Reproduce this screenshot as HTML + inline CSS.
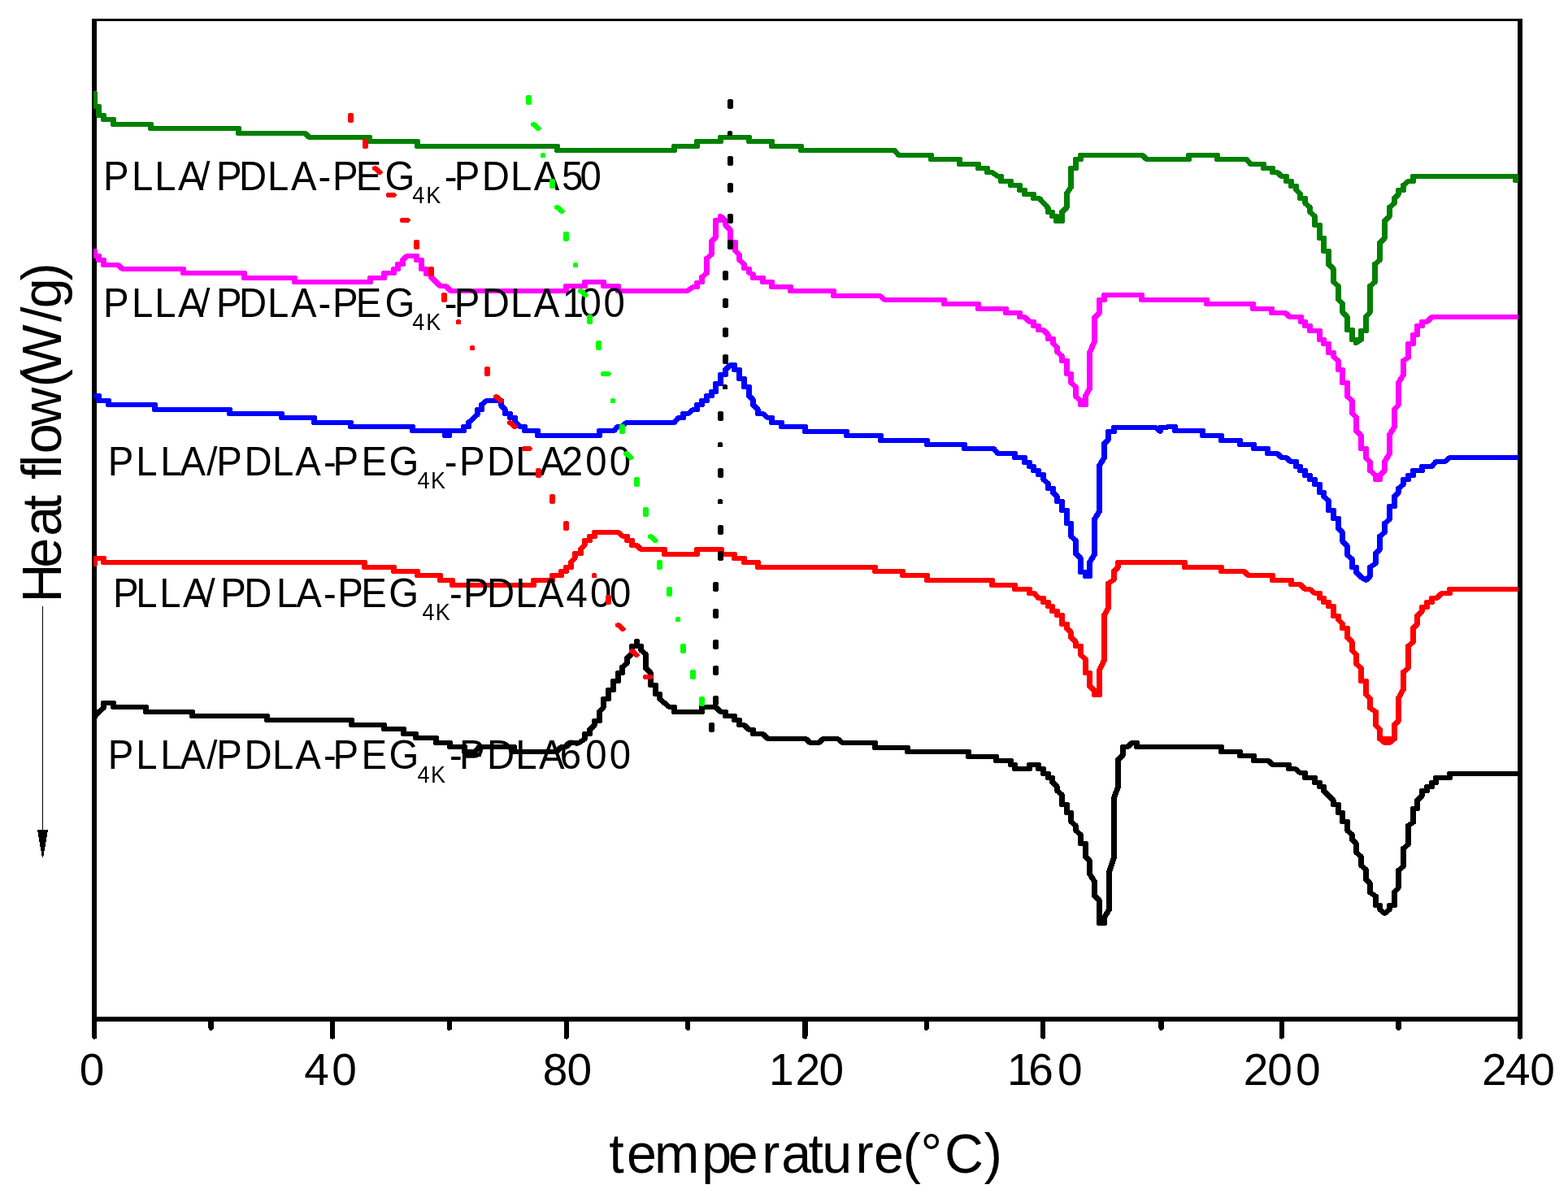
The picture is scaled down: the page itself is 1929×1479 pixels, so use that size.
<!DOCTYPE html>
<html lang="en"><head><meta charset="utf-8"><title>DSC heat flow curves</title>
<style>html,body{margin:0;padding:0;background:#fff}body{width:1929px;height:1479px;overflow:hidden}svg{display:block}text{font-family:"Liberation Sans",Arial,Helvetica,sans-serif;fill:#000}.c{fill:none;stroke-width:6.1;stroke-linejoin:round;stroke-linecap:round}.d{fill:none;stroke-width:7;stroke-linecap:round}</style></head><body>
<svg xmlns="http://www.w3.org/2000/svg" width="1929" height="1479" viewBox="0 0 1929 1479">
<rect width="1929" height="1479" fill="#fff"/>
<defs><clipPath id="plot"><rect x="115" y="26" width="1753" height="1226"/></clipPath></defs>
<g font-size="55">
<text y="1335" x="97.7">0</text>
<text y="1335" x="374.3 408.3">40</text>
<text y="1335" x="667.8 697.4">80</text>
<text y="1335" x="945.9 978.5 1007.6">120</text>
<text y="1335" x="1239 1265.3 1301">160</text>
<text y="1335" x="1529.8 1559.2 1594.1">200</text>
<text y="1335" x="1823 1851.9 1882.3">240</text>
</g>
<text font-size="68.5" transform="scale(0.97,1)" y="1442.8" x="772.37 794.75 830.02 889.95 923.41 966.2 990.94 1025.26 1042.66 1085.17 1108.15 1145.13 1167.54 1197.95 1248.25">temperature(°C)</text>
<text font-size="68.5" transform="translate(75,736) rotate(-90) scale(0.97,1)" y="0" x="-5.62 38.36 78.57 111.86 134.02 150.59 166.54 183.21 217.9 267.92 282.44 350.52 367.74 402.68">Heat flow(W/g)</text>
<g shape-rendering="crispEdges"><rect x="52" y="746" width="1" height="280" fill="#000"/></g>
<path shape-rendering="crispEdges" fill="#000" d="M46 1021L46 1021L46 1024L47 1024L47 1030L48 1030L48 1036L49 1036L49 1042L50 1042L50 1047L51 1047L51 1053L52 1053L52 1055L53 1055L53 1053L54 1053L54 1047L55 1047L55 1042L56 1042L56 1036L57 1036L57 1030L58 1030L58 1024L59 1024L59 1021Z"/>
<g fill="#000" shape-rendering="crispEdges">
<rect x="113" y="23" width="1760" height="3"/>
<rect x="113" y="1251" width="1760" height="6"/>
<rect x="113" y="23" width="6" height="1254"/>
<rect x="1867" y="23" width="6" height="1254"/>
</g>
<g stroke="#000" stroke-width="6.4" stroke-linecap="round" fill="none" shape-rendering="crispEdges">
<path d="M116.1 1254V1275.4"/>
<path d="M409 1254V1275.4"/>
<path d="M696.9 1254V1275.4"/>
<path d="M990.3 1254V1275.4"/>
<path d="M1283.2 1254V1275.4"/>
<path d="M1576.7 1254V1275.4"/>
<path d="M1870 1254V1275.4"/>
<path d="M259.6 1254V1264.6"/>
<path d="M552.9 1254V1264.6"/>
<path d="M846.2 1254V1264.6"/>
<path d="M1139.8 1254V1264.6"/>
<path d="M1428.6 1254V1264.6"/>
<path d="M1720.5 1254V1264.6"/>
</g>
<g clip-path="url(#plot)"><g class="c" transform="scale(1.15,1)" shape-rendering="crispEdges">
<path stroke="#000" d="M101.3 882L105.65 876L110.87 871L110.87 865L121.3 865L121.3 870L156.09 870L156.09 876L205.65 876L205.65 881L285.65 881L285.65 886L376.09 886L376.09 892L410.87 892L410.87 897L431.74 897L431.74 903L444.78 903L444.78 908L466.52 908L466.52 914L481.3 914L481.3 919L496.96 919L496.96 925L508.26 925L512.61 919L550 919L550 925L595.22 925L600.43 919L605.65 919L610 914L619.57 914L625.65 909L625.65 903L630.87 903L630.87 898L636.09 892L636.09 887L641.3 887L641.3 876L645.65 870L645.65 860L650.87 860L650.87 849L656.09 849L656.09 838L661.3 838L661.3 828L665.65 828L665.65 821L670.87 816L670.87 810L676.09 804L676.09 795L681.3 795L681.3 789L681.3 795L685.65 795L685.65 800L690.87 805L690.87 822L696.09 828L696.09 843L701.3 843L701.3 854L705.65 854L705.65 860L716.09 870L721.3 870L721.3 876L750.87 876L750.87 870L765.65 870L770.87 876L776.09 876L776.09 881L785.65 881L785.65 886L790.87 886L790.87 892L796.09 892L801.3 898L805.65 898L805.65 903L816.09 903L821.3 909L862.17 909L866.52 914L876.09 914L880.43 909L896.09 909L901.3 914L936.09 914L936.09 920L970.87 920L970.87 925L1036.09 925L1036.09 931L1065.65 931L1065.65 936L1081.3 936L1081.3 941L1085.65 941L1085.65 946L1101.3 946L1101.3 941L1110.87 941L1110.87 946L1116.09 946L1116.09 952L1121.3 952L1121.3 957L1125.65 957L1125.65 962L1130.87 968L1130.87 973L1136.09 978L1136.09 990L1141.3 990L1141.3 1000L1145.65 1000L1145.65 1011L1150.87 1016L1150.87 1022L1156.09 1027L1156.09 1038L1161.3 1038L1161.3 1054L1165.65 1059L1165.65 1075L1170.87 1085L1170.87 1102L1176.09 1108L1176.09 1136L1181.3 1136L1181.3 1129L1186.52 1119L1186.52 1073L1191.74 1055L1191.74 982L1196.09 968L1196.09 935L1201.3 929L1201.3 919L1206.52 919L1210.87 914L1216.09 914L1216.09 919L1306.52 919L1306.52 925L1326.52 925L1326.52 930L1341.3 930L1341.3 936L1356.96 936L1361.3 941L1378.7 941L1378.7 946L1385.65 946L1390.87 951L1396.09 951L1396.09 957L1406.52 957L1406.52 963L1411.74 963L1411.74 968L1416.09 968L1416.09 973L1426.52 985L1426.52 990L1431.74 990L1431.74 1000L1436.09 1000L1436.09 1011L1441.3 1011L1441.3 1022L1446.52 1027L1446.52 1033L1450.87 1038L1450.87 1049L1456.09 1054L1456.09 1065L1461.3 1070L1461.3 1082L1465.65 1087L1465.65 1098L1471.74 1103L1471.74 1114L1476.09 1114L1476.09 1119L1481.3 1124L1486.52 1119L1486.52 1114L1491.74 1114L1491.74 1098L1496.09 1092L1496.09 1071L1501.3 1066L1501.3 1044L1506.52 1039L1506.52 1016L1511.74 1012L1511.74 995L1516.09 995L1516.09 985L1521.3 979L1521.3 973L1526.52 973L1526.52 968L1531.74 968L1531.74 963L1536.09 963L1536.09 957L1550.87 957L1550.87 952L1623.04 952"/>
<path stroke="#f00" d="M101.3 694L101.3 687L110.87 687L110.87 692L390 692L390 698L421.3 698L421.3 703L446.52 703L446.52 708L470.87 708L470.87 714L483.91 714L483.91 720L570.87 720L570.87 714L590.87 714L590.87 708L600.43 708L600.43 703L605.65 703L605.65 698L610.87 698L610.87 692L615.22 686L615.22 681L621.3 681L621.3 676L625.65 670L625.65 665L630.87 665L630.87 660L636.09 660L636.09 655L661.3 655L666.52 660L670.87 660L670.87 665L676.09 665L676.09 671L681.3 671L685.65 676L710.87 676L710.87 682L745.65 682L745.65 676L771.74 676L771.74 682L785.65 682L785.65 687L796.09 687L796.09 692L810.87 692L810.87 698L936.09 698L936.09 703L965.65 703L965.65 708L991.74 708L991.74 714L1061.3 714L1061.3 720L1085.65 720L1085.65 725L1101.3 725L1101.3 730L1106.52 730L1110.87 736L1116.09 736L1116.09 741L1121.3 741L1121.3 746L1125.65 746L1125.65 752L1130.87 752L1130.87 757L1136.09 757L1136.09 768L1141.3 768L1141.3 773L1145.65 778L1145.65 784L1150.87 790L1150.87 795L1156.09 795L1156.09 806L1161.3 811L1161.3 828L1165.65 828L1165.65 844L1170.87 850L1170.87 855L1176.09 855L1176.09 825L1181.3 812L1181.3 757L1185.65 748L1185.65 718L1191.74 713L1191.74 703L1196.09 698L1196.09 692L1267.39 692L1267.39 698L1306.52 698L1306.52 703L1330.87 703L1335.22 708L1361.3 708L1361.3 714L1381.3 714L1381.3 719L1390.87 719L1396.09 725L1401.3 725L1406.52 730L1411.74 730L1411.74 736L1416.09 736L1416.09 741L1421.3 741L1421.3 746L1426.52 746L1426.52 758L1431.74 758L1431.74 762L1436.09 768L1436.09 773L1441.3 773L1441.3 784L1446.52 790L1446.52 800L1450.87 806L1450.87 817L1456.09 822L1456.09 838L1461.3 838L1461.3 854L1465.65 860L1465.65 871L1471.74 876L1471.74 892L1476.09 898L1476.09 909L1491.74 909L1476.09 909L1481.3 914L1486.52 914L1491.74 909L1491.74 892L1496.09 887L1496.09 859L1501.3 848L1501.3 827L1506.52 822L1506.52 795L1511.74 790L1511.74 773L1516.09 768L1516.09 758L1521.3 752L1521.3 747L1526.52 747L1526.52 741L1531.74 741L1531.74 736L1536.96 736L1542.17 730L1550.87 730L1550.87 725L1623.04 725"/>
<path stroke="#00f" d="M101.3 487L105.65 487L105.65 493L116.09 493L116.09 498L165.65 498L165.65 504L245.65 504L245.65 509L301.3 509L301.3 514L336.09 514L336.09 520L375.22 520L375.22 525L441.3 525L441.3 530L476.09 530L476.09 536L480.43 536L480.43 530L496.09 530L496.09 525L501.3 525L501.3 520L510.87 510L510.87 504L515.22 504L515.22 498L520.43 493L536.09 493L536.09 499L540.43 504L540.43 509L545.65 509L545.65 514L550.87 514L550.87 519L556.09 525L561.3 525L561.3 530L575.22 530L575.22 536L641.3 536L641.3 530L656.96 530L660.43 525L664.78 525L670 520L721.3 520L725.65 514L730.87 514L730.87 509L736.09 509L741.3 504L745.65 504L745.65 498L750.87 498L750.87 493L756.09 493L756.09 487L761.3 487L761.3 482L765.65 482L765.65 472L770.87 472L770.87 461L776.09 461L776.09 455L781.3 449L785.65 449L785.65 455L790.87 455L790.87 466L796.09 466L796.09 476L801.3 476L801.3 487L805.65 492L805.65 498L810.87 504L810.87 509L816.09 509L821.3 514L825.65 514L825.65 520L836.09 520L836.09 525L861.3 525L861.3 531L905.65 531L905.65 536L942.17 536L942.17 542L991.74 542L991.74 547L1031.74 547L1031.74 552L1063.04 552L1067.39 558L1085.65 558L1085.65 563L1096.09 563L1096.09 569L1101.3 569L1101.3 574L1105.65 574L1105.65 579L1110.87 579L1110.87 584L1116.09 584L1116.09 590L1121.3 595L1121.3 601L1126.52 601L1126.52 606L1130.87 611L1130.87 617L1136.09 617L1136.09 628L1141.3 628L1141.3 644L1145.65 644L1145.65 660L1150.87 665L1150.87 681L1156.09 687L1156.09 704L1161.3 704L1161.3 709L1165.65 709L1165.65 692L1170.87 682L1170.87 639L1176.09 629L1176.09 573L1181.3 563L1181.3 546L1185.65 541L1185.65 531L1191.74 531L1191.74 526L1236.09 526L1241.3 531L1241.3 526L1256.96 525L1256.96 530L1286.52 530L1286.52 536L1306.52 536L1306.52 542L1326.52 542L1326.52 547L1341.3 547L1341.3 552L1356.09 552L1356.09 558L1366.52 558L1370.87 563L1376.09 563L1380.43 568L1386.52 568L1386.52 574L1390.87 574L1390.87 579L1396.09 579L1396.09 585L1401.3 585L1401.3 590L1406.52 590L1406.52 596L1411.74 596L1411.74 606L1416.09 606L1416.09 611L1421.3 616L1421.3 628L1426.52 628L1426.52 638L1431.74 638L1431.74 650L1436.09 655L1436.09 666L1441.3 672L1441.3 683L1446.52 688L1446.52 698L1450.87 698L1450.87 704L1456.09 710L1461.3 714L1465.65 709L1465.65 698L1471.74 693L1471.74 681L1476.09 676L1476.09 660L1481.3 655L1481.3 644L1486.52 639L1486.52 623L1491.74 623L1491.74 611L1496.09 606L1496.09 601L1501.3 596L1501.3 590L1506.52 590L1506.52 585L1511.74 585L1511.74 579L1521.3 579L1521.3 574L1531.74 574L1536.09 568L1545.65 568L1550.87 563L1623.04 563"/>
<path stroke="#f0f" d="M101.3 309L101.3 315L105.65 315L105.65 320L110.87 320L110.87 326L126.52 326L130.87 331L196.09 331L196.09 336L261.3 336L261.3 342L315.22 342L315.22 347L396.09 347L396.09 342L410.87 342L410.87 336L421.3 336L421.3 331L425.65 331L425.65 325L430.87 325L430.87 320L435.22 315L445.65 315L445.65 320L450.87 320L450.87 331L456.09 331L456.09 337L461.3 337L461.3 341L470.87 352L476.96 352L482.17 358L605.65 358L605.65 352L625.65 352L625.65 347L645.65 347L645.65 352L661.3 352L661.3 358L735.22 358L741.3 353L745.65 353L745.65 348L750.87 347L750.87 341L756.09 336L756.09 318L761.3 313L761.3 297L765.65 292L765.65 271L770.87 271L770.87 266L776.09 272L776.09 277L781.3 283L781.3 298L786.52 298L786.52 308L790.87 314L790.87 320L796.09 325L796.09 330L801.3 331L801.3 336L805.65 337L805.65 342L816.09 342L816.09 347L825.65 347L825.65 353L845.65 353L845.65 358L891.74 358L891.74 364L941.3 364L946.52 369L1010 369L1010 374L1046.52 374L1046.52 380L1076.09 380L1076.09 385L1090.87 385L1090.87 390L1096.09 390L1101.3 396L1105.65 396L1105.65 401L1110.87 401L1110.87 406L1116.09 406L1121.3 412L1121.3 417L1126.52 417L1126.52 422L1130.87 428L1130.87 433L1136.09 438L1136.09 444L1141.3 444L1141.3 460L1145.65 460L1145.65 471L1150.87 476L1150.87 488L1156.09 493L1156.09 498L1161.3 498L1161.3 487L1165.65 478L1165.65 434L1170.87 420L1170.87 391L1176.09 385L1176.09 369L1181.3 369L1181.3 363L1221.3 363L1221.3 369L1290.87 369L1290.87 374L1340.43 374L1340.43 380L1360.43 380L1360.43 385L1375.22 385L1379.57 390L1391.74 390L1391.74 396L1396.09 396L1396.09 401L1401.3 401L1401.3 407L1411.74 407L1411.74 418L1416.09 418L1416.09 423L1421.3 423L1421.3 434L1426.52 434L1426.52 439L1431.74 444L1431.74 455L1436.09 455L1436.09 471L1441.3 471L1441.3 488L1446.52 493L1446.52 508L1450.87 514L1450.87 530L1456.09 536L1456.09 552L1461.3 552L1461.3 563L1465.65 569L1465.65 579L1471.74 585L1471.74 590L1476.09 590L1476.09 585L1481.3 579L1481.3 568L1486.52 558L1486.52 535L1491.74 525L1491.74 504L1496.09 498L1496.09 471L1501.3 461L1501.3 444L1506.52 440L1506.52 423L1511.74 423L1511.74 412L1516.09 412L1516.09 401L1521.3 401L1521.3 396L1526.52 396L1531.74 390L1623.04 390"/>
<path stroke="#008000" d="M101.3 115L101.3 131L105.65 131L105.65 142L110.87 142L110.87 147L121.3 147L121.3 153L161.3 153L161.3 158L255.22 158L255.22 164L326.52 164L330.87 169L395.22 169L395.22 174L446.52 174L446.52 180L596.09 180L596.09 185L721.3 185L721.3 180L745.65 180L745.65 174L770.87 174L770.87 169L801.3 169L801.3 174L825.65 174L825.65 180L856.96 180L856.96 185L956.96 185L961.3 191L996.09 191L996.09 196L1026.52 196L1026.52 202L1046.52 202L1046.52 207L1056.09 207L1056.09 212L1061.3 212L1067.39 217L1070.87 217L1070.87 223L1081.3 223L1081.3 228L1090.87 228L1090.87 234L1096.09 234L1096.09 239L1105.65 239L1105.65 244L1111.74 244L1121.3 256L1121.3 261L1125.65 261L1125.65 266L1130 266L1130 272L1136.09 272L1136.09 261L1141.3 255L1141.3 238L1145.65 230L1145.65 207L1150.87 207L1150.87 196L1156.09 196L1156.09 191L1222.17 191L1226.52 196L1271.74 196L1271.74 191L1302.17 191L1302.17 196L1333.48 196L1337.83 202L1351.74 202L1351.74 207L1361.3 207L1361.3 212L1366.52 212L1370.87 217L1376.09 217L1376.09 223L1381.3 223L1381.3 229L1386.52 229L1386.52 233L1390.87 239L1390.87 244L1396.09 244L1396.09 250L1401.3 255L1401.3 261L1406.52 266L1406.52 277L1411.74 277L1411.74 293L1416.09 293L1416.09 309L1421.3 309L1421.3 325L1426.52 331L1426.52 347L1431.74 352L1431.74 368L1436.09 374L1436.09 384L1441.3 390L1441.3 406L1446.52 406L1446.52 418L1450.87 418L1450.87 422L1456.09 418L1456.09 407L1461.3 407L1461.3 390L1465.65 384L1465.65 352L1470.87 347L1470.87 325L1476.09 320L1476.09 299L1481.3 293L1481.3 272L1486.52 266L1486.52 255L1491.74 250L1491.74 244L1496.09 239L1496.09 234L1501.3 234L1501.3 228L1506.52 223L1511.74 223L1511.74 217L1621.3 217L1621.3 222"/>
</g></g>
<g font-size="50.6" transform="scale(0.935,1)">
<text y="233.9" x="135.74 173.39 203.55 234.34 262.25 284.41 314.35 351.79 382.79 418.84 437.35 468.15 506.56">PLLA/PDLA-PEG<tspan font-size="28.9" y="249.7" x="542.65 560.73">4K</tspan><tspan y="233.9" x="584.83 597.67 634.03 671.79 702.47 739.05 763.05">-PDLA50</tspan></text>
<text y="389.8" x="135.74 173.39 203.55 234.34 262.25 284.41 314.35 351.79 382.79 418.84 437.35 468.15 506.56">PLLA/PDLA-PEG<tspan font-size="28.9" y="405.7" x="542.65 560.73">4K</tspan><tspan y="389.8" x="584.83 597.67 634.03 671.79 702.47 739.9 763.05 794.18">-PDLA100</tspan></text>
<text y="585" x="141.95 178.95 210.93 237.01 271.87 284.73 321.31 358.31 388.45 425.69 437.88 475.42 511.69">PLLA/PDLA-PEG<tspan font-size="28.9" y="600.9" x="549.28 566.72">4K</tspan><tspan y="585" x="584.83 604.3 640.56 678.42 709.95 738.65 770.22 801.77">-PDLA200</tspan></text>
<text y="747" x="148.58 178.85 209.86 240.54 268.98 290.08 321.2 363.66 389.63 425.58 444.09 475.21 511.59">PLLA/PDLA-PEG<tspan font-size="28.9" y="762.9" x="555.49 573.03">4K</tspan><tspan y="747" x="591.46 609.65 640.77 678.31 707.92 744.93 776.53 802.09">-PDLA400</tspan></text>
<text y="946" x="141.95 178.95 210.93 237.01 271.87 284.73 321.31 358.31 388.45 425.69 437.88 475.42 511.69">PLLA/PDLA-PEG<tspan font-size="28.9" y="962.7" x="549.28 566.72">4K</tspan><tspan y="946" x="591.57 604.3 640.56 678.42 708.99 736.67 770.22 801.77">-PDLA600</tspan></text>
</g>
<rect x="571" y="926" width="21" height="5" fill="#000" shape-rendering="crispEdges"/>
<g class="c" transform="scale(1.15,1)" shape-rendering="crispEdges">
<path stroke="#f00" d="M375.22 142v6M390.87 174v6M401.3 207l4.96 5M416.09 240h4.96M430.87 271h4.96M445.65 298v6M461.3 331v6M475.22 363v6M490.43 396v0.2M505.22 428v0.2M521.3 454v6M530.87 488l4.96 5M545.65 520l4.96 5M561.3 552h4.96M576.09 579v6M590.87 611v6M605.65 644v6M635.65 708v0.2M650.87 735v6M661.3 769l4.96 5M676.09 801l4.96 5M690.87 833h4.96"/>
<path stroke="#0f0" d="M565.65 120v6M570.87 153l4.96 5M580.87 191v0.2M590.87 223v6M596.09 255l4.96 5M605.65 288v6M615.65 326v0.2M621.3 358l4.96 5M630.87 390v6M640.43 422v6M645.65 460h4.96M655.65 493v0.2M665.65 525v6M670 558l4.96 5M681.3 590v6M690.87 627v6M696.09 660l4.96 5M705.65 692v6M716.09 725v6M725.22 762v0.2M730.87 795v6M741.3 827v6M750.87 860v6"/>
<path stroke="#000" d="M781.3 125v6M780.87 164v0.2M781.3 195v6M781.3 228v6M781.3 266v6M781.3 298v6M776.09 336v6M776.09 370v6M776.09 406v6M776.09 439v6M775.65 476v0.2M770.87 509v6M770.43 547v0.2M770.87 579v6M770.43 617v0.2M770.87 649v6M770.87 681v6M765.65 719v6M765.65 752v6M765.65 790v6M765.65 822v6M765.65 859v6M761.3 892v6"/>
</g>
</svg></body></html>
